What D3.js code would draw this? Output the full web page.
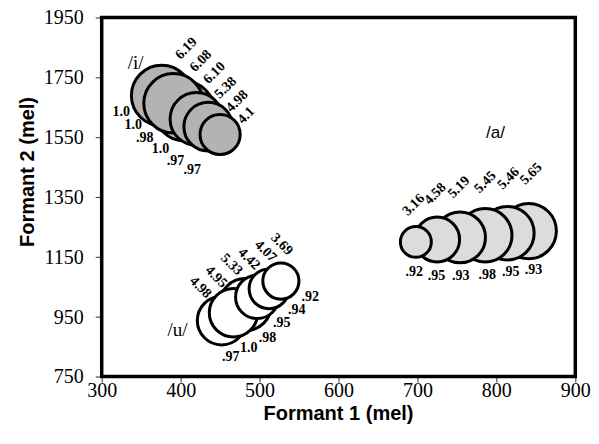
<!DOCTYPE html>
<html>
<head>
<meta charset="utf-8">
<script src="https://cdn.jsdelivr.net/npm/d3@7"></script>
<style>
  body { margin: 0; background: #fff; }
  .title { font-family: "Liberation Sans", Arial, sans-serif; font-weight: bold; font-size: 20px; }
  .val { font-family: "Liberation Serif", "Times New Roman", serif; font-weight: bold; font-size: 14px; }
</style>
</head>
<body>
<div id="chart"></div>
<script>
// tick values
const xTicks = [300, 400, 500, 600, 700, 800, 900];
const yTicks = [750, 950, 1150, 1350, 1550, 1750, 1950];

// /i/ : formant 1, formant 2, bubble size, lower labels
const iF1 = [376, 391, 405, 420, 435, 450];
const iF2 = [1689, 1663, 1637, 1611, 1585, 1559];
const iSize = [6.19, 6.08, 6.10, 5.38, 4.98, 4.1];
const iSizeText = ["6.19", "6.08", "6.10", "5.38", "4.98", "4.1"];
const iRatio = ["1.0", "1.0", ".98", "1.0", ".97", ".97"];

// /a/
const aF1 = [698, 725, 754, 786, 814, 841];
const aF2 = [1200, 1208, 1215, 1222, 1229, 1236];
const aSize = [3.16, 4.58, 5.19, 5.45, 5.46, 5.65];
const aSizeText = ["3.16", "4.58", "5.19", "5.45", "5.46", "5.65"];
const aRatio = [".92", ".95", ".93", ".98", ".95", ".93"];

// /u/
const uF1 = [452, 467, 482, 497, 512, 527];
const uF2 = [937, 963, 990, 1016, 1043, 1069];
const uSize = [4.98, 4.95, 5.33, 4.42, 4.07, 3.69];
const uSizeText = ["4.98", "4.95", "5.33", "4.42", "4.07", "3.69"];
const uRatio = [".97", "1.0", ".98", ".95", ".94", ".92"];

// vowel name annotations (F1, F2)
const vowelNames = ["/i/", "/a/", "/u/"];
const vowelF1 = [343, 799, 396];
const vowelF2 = [1798, 1567, 908];

const width = 599, height = 444;
const x = d3.scaleLinear().domain([300, 900]).range([101.7, 575.3]);
const y = d3.scaleLinear().domain([750, 1950]).range([376.5, 17.5]);
const r = d3.scaleLinear().domain([0, 6.19]).range([0, 30.3]);

const svg = d3.select("#chart").append("svg")
  .attr("width", width).attr("height", height);

const styleAxis = g => {
  g.select(".domain").remove();
  g.attr("font-family", null).attr("font-size", null);
  g.selectAll(".tick line").attr("stroke", "#333");
  g.selectAll(".tick text")
    .attr("font-family", "Liberation Serif")
    .style("font-family", "'Liberation Serif', 'Times New Roman', serif")
    .style("font-size", "20px").attr("fill", "#000");
};

svg.append("g")
  .attr("transform", `translate(0,${y(750)})`)
  .call(d3.axisBottom(x).tickValues(xTicks).tickSize(6).tickPadding(0).tickFormat(d3.format("d")))
  .call(styleAxis);

svg.append("g")
  .attr("transform", `translate(${x(300)},0)`)
  .call(d3.axisLeft(y).tickValues(yTicks).tickSize(6).tickPadding(12).tickFormat(d3.format("d")))
  .call(styleAxis);

const clusters = [
  { f1: iF1, f2: iF2, size: iSize, top: iSizeText, bot: iRatio, fill: "#b3b3b3",
    rot: -45, topAng: [-63, -37], topGap: [23, 12], botAng: [159, 128], botGap: [13, 25] },
  { f1: aF1, f2: aF2, size: aSize, top: aSizeText, bot: aRatio, fill: "#dcdcdc",
    rot: -45, topAng: [-94, -88], topGap: [22, 30], botAng: [93, 83], botGap: [14, 11] },
  { f1: uF1, f2: uF2, size: uSize, top: uSizeText, bot: uRatio, fill: "#ffffff",
    rot: 45, topAng: [-122, -88], topGap: [15, 19], botAng: [76, 27], botGap: [13, 15] }
];

clusters.forEach(c => {
  const pts = c.f1.map((f, i) => ({
    i, cx: x(f), cy: y(c.f2[i]), r: r(c.size[i]), top: c.top[i], bot: c.bot[i]
  }));
  const t = d3.scaleLinear().domain([0, pts.length - 1]);

  // larger bubbles go behind the smaller ones
  svg.append("g").selectAll("circle")
    .data(pts.slice().sort((a, b) => b.r - a.r))
    .enter().append("circle")
    .attr("cx", d => d.cx).attr("cy", d => d.cy).attr("r", d => d.r)
    .attr("fill", c.fill).attr("stroke", "#000").attr("stroke-width", 3);

  const place = (d, ang, gap) => {
    const a = t.range(ang)(d.i) * Math.PI / 180;
    const dist = d.r + t.range(gap)(d.i);
    return [d.cx + dist * Math.cos(a), d.cy + dist * Math.sin(a)];
  };

  svg.append("g").selectAll("text")
    .data(pts).enter().append("text")
    .attr("class", "val")
    .attr("text-anchor", "middle").attr("dominant-baseline", "central")
    .attr("transform", d => {
      const p = place(d, c.topAng, c.topGap);
      return `translate(${p[0]},${p[1]}) rotate(${c.rot})`;
    })
    .text(d => d.top);

  svg.append("g").selectAll("text")
    .data(pts).enter().append("text")
    .attr("class", "val")
    .attr("text-anchor", "middle").attr("dominant-baseline", "central")
    .attr("transform", d => {
      const p = place(d, c.botAng, c.botGap);
      return `translate(${p[0]},${p[1]})`;
    })
    .text(d => d.bot);
});

svg.append("g").selectAll("text")
  .data(vowelNames).enter().append("text")
  .attr("x", (d, i) => x(vowelF1[i]))
  .attr("y", (d, i) => y(vowelF2[i]))
  .attr("text-anchor", "middle").attr("dominant-baseline", "central")
  .style("font-family", (d, i) => i === 1 ? "'Liberation Sans', Arial, sans-serif" : "'Liberation Serif', 'Times New Roman', serif")
  .style("font-size", (d, i) => i === 1 ? "17px" : "19px")
  .text(d => d);

// plot frame
svg.append("rect")
  .attr("x", x(300)).attr("y", y(1950))
  .attr("width", x(900) - x(300)).attr("height", y(750) - y(1950))
  .attr("fill", "none").attr("stroke", "#000").attr("stroke-width", 3.5);

svg.append("text")
  .attr("class", "title")
  .attr("x", x(600)).attr("y", 419.5)
  .attr("text-anchor", "middle")
  .text("Formant 1 (mel)");

svg.append("text")
  .attr("class", "title")
  .attr("transform", "translate(34,172) rotate(-90)")
  .attr("text-anchor", "middle")
  .text("Formant 2 (mel)");
</script>
</body>
</html>
